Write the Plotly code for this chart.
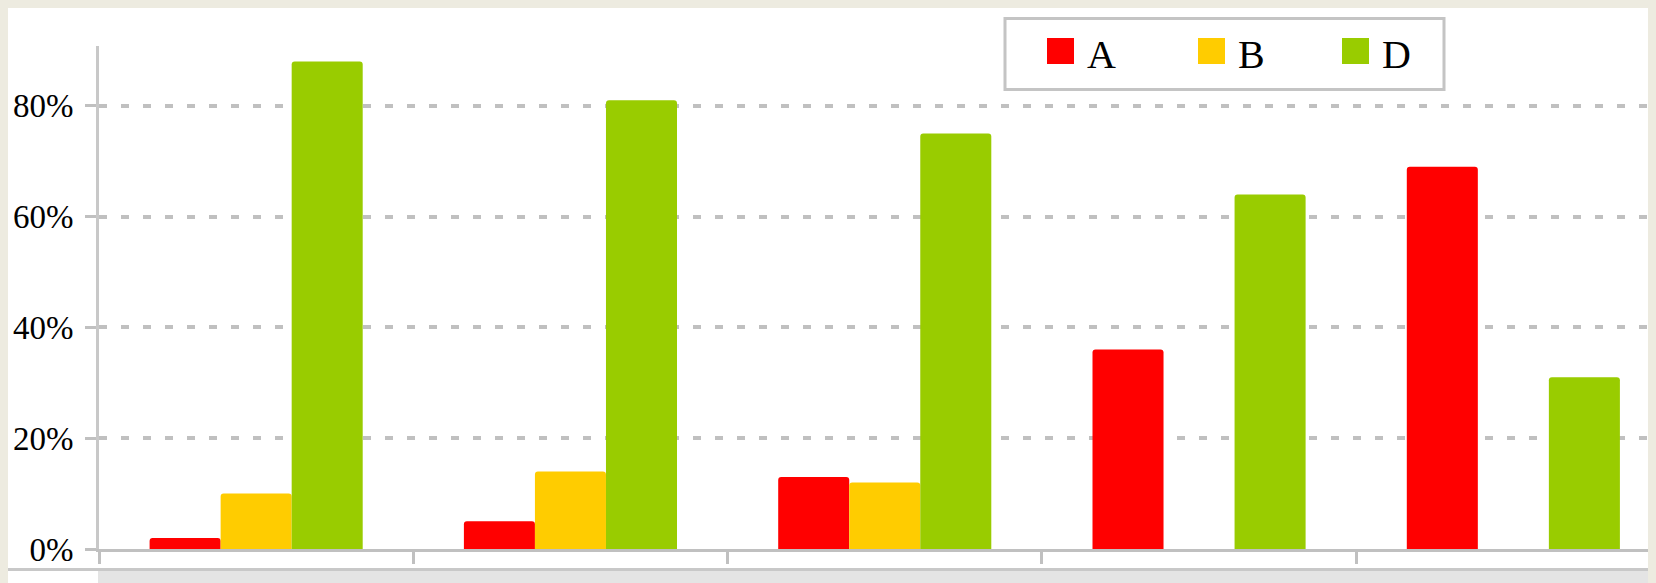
import plotly.graph_objects as go

# ---- data ----
categories = ["G1", "G2", "G3", "G4", "G5"]
series_names = ["A", "B", "D"]
series_colors = ["#FF0000", "#FFCC00", "#99CC00"]
values_A = [2, 5, 13, 36, 69]
values_B = [10, 14, 12, None, None]
values_D = [88, 81, 75, 64, 31]
y_ticks = [0, 20, 40, 60, 80]

series_values = [values_A, values_B, values_D]

# ---- layout geometry (pixels, in figure coordinates; page = figure + 8px body margin) ----
FW, FH = 1648, 575
L, R, T, B = 91, 1648, 38, 541
W, H = R - L, B - T


def px(x):
    return (x - L) / W


def py(y):
    return (B - y) / H


FONT = "Liberation Serif, Times New Roman, serif"
GRID = "#C0C0C0"
BEIGE = "#EDEBE0"

fig = go.Figure()
for name, color, vals in zip(series_names, series_colors, series_values):
    fig.add_trace(go.Bar(
        x=categories, y=vals, name=name,
        marker=dict(color=color, line=dict(width=0)),
        showlegend=False, hoverinfo="x+y+name",
    ))

shapes = []
annotations = []
# bottom strip decorations
shapes.append(dict(type="rect", xref="paper", yref="paper", layer="below",
                   x0=px(90), x1=px(FW), y0=py(563), y1=py(FH),
                   fillcolor="#E4E4E4", line=dict(width=0)))
shapes.append(dict(type="rect", xref="paper", yref="paper", layer="below",
                   x0=px(0), x1=px(FW), y0=py(560), y1=py(563),
                   fillcolor="#C8C8C8", line=dict(width=0)))

# custom legend (box, colour swatches, labels)
shapes.append(dict(type="rect", xref="paper", yref="paper", layer="above",
                   x0=px(997), x1=px(1436), y0=py(10.5), y1=py(81.5),
                   fillcolor="white", line=dict(color="#C4C4C4", width=3)))
swatch_x = [1039, 1190, 1334]
for name, color, sx in zip(series_names, series_colors, swatch_x):
    shapes.append(dict(type="rect", xref="paper", yref="paper", layer="above",
                       x0=px(sx), x1=px(sx + 27), y0=py(30), y1=py(56),
                       fillcolor=color, line=dict(width=0)))
    annotations.append(dict(xref="paper", yref="paper", x=px(sx + 38), y=py(46.5),
                            xanchor="left", yanchor="middle", showarrow=False,
                            text=name, font=dict(family=FONT, size=40, color="black")))

fig.update_layout(
    width=FW, height=FH,
    margin=dict(l=L, r=FW - R, t=T, b=FH - B, pad=0),
    paper_bgcolor="white", plot_bgcolor="rgba(0,0,0,0)",
    barmode="group", bargap=0.322, bargroupgap=0,
    barcornerradius=3,
    showlegend=False,
    font=dict(family=FONT, size=33, color="black"),
    shapes=shapes, annotations=annotations,
    xaxis=dict(
        range=[-0.5, -0.5 + W / 314.3],
        showticklabels=False, showgrid=False, zeroline=False,
        showline=True, linecolor=GRID, linewidth=3,
        ticks="outside", tickson="boundaries", ticklen=12, tickwidth=3, tickcolor=GRID,
    ),
    yaxis=dict(
        range=[0, 90.8],
        tickvals=y_ticks, ticktext=[f"{v}%" for v in y_ticks],
        showgrid=True, gridcolor=GRID, gridwidth=4, griddash="8px,14px",
        zeroline=False,
        showline=True, linecolor="#C8C8C8", linewidth=3,
        ticks="outside", ticklen=11, tickwidth=3, tickcolor=GRID,
        tickfont=dict(family=FONT, size=33, color="black"),
        ticklabelstandoff=5,
    ),
)

fig.write_html(
    "out.html",
    post_script=f"document.body.style.background='{BEIGE}';",
)
